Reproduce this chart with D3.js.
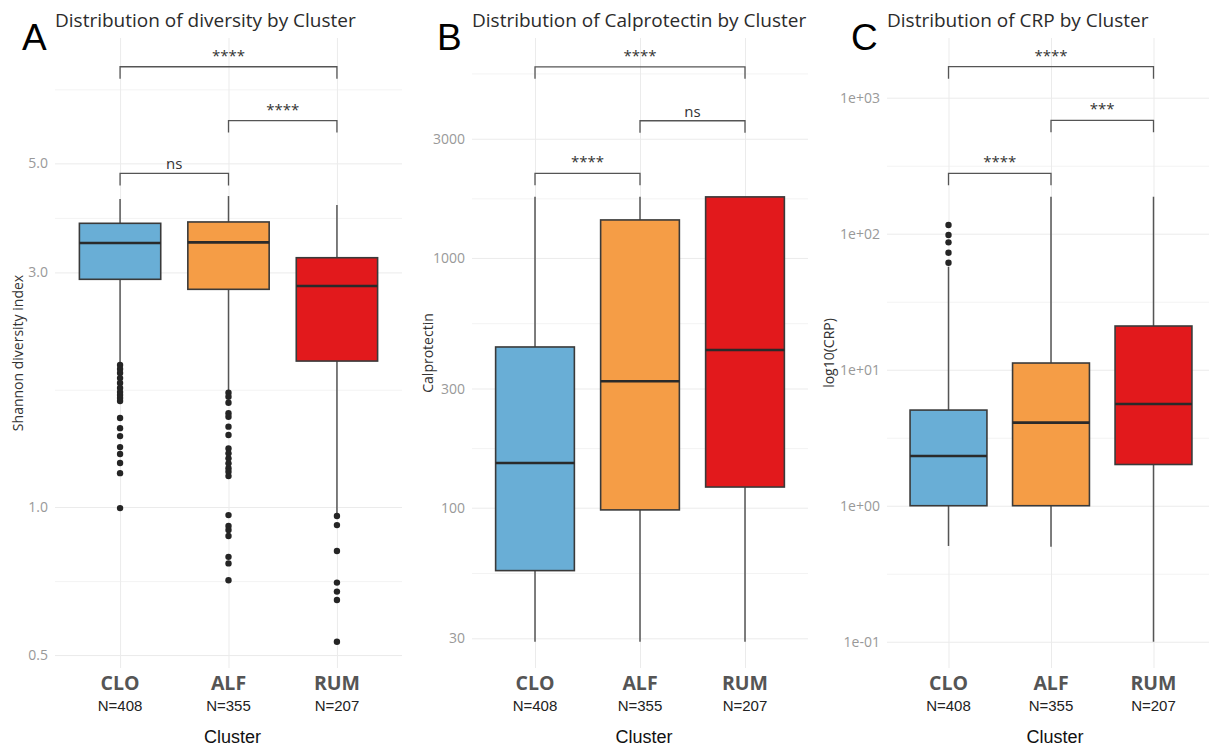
<!DOCTYPE html>
<html>
<head>
<meta charset="utf-8">
<script src="https://cdn.jsdelivr.net/npm/d3@7"></script>
<style>
body { margin: 0; background: #fff; }
svg text { font-family: "Open Sans", sans-serif; }
.grid path { display: none; }
.grid.major line { stroke: #ebebeb; stroke-width: 1; }
.grid.minor line { stroke: #f3f3f3; stroke-width: 1; }
.ytick path { display: none; }
.ytick text { fill: #999; font-size: 14px; }
</style>
</head>
<body>
<svg id="chart" width="1209" height="747"></svg>
<script>
var clusters = ["CLO", "ALF", "RUM"];
var clusterN = [408, 355, 207];
var clusterFill = ["#69aed6", "#f59d46", "#e2191c"];

// boxes: [lower whisker, Q1, median, Q3, upper whisker]
var diversityBoxes = [
    [1.96, 2.905, 3.443, 3.776, 4.23],
    [1.73, 2.772, 3.454, 3.80, 4.29],
    [0.968, 1.981, 2.815, 3.214, 4.115]
];
var diversityOutliers = [
    [1.945, 1.909, 1.873, 1.829, 1.787, 1.746, 1.713, 1.690, 1.666, 1.643, 1.517, 1.447, 1.394, 1.324, 1.282, 1.229, 1.172, 0.995],
    [1.708, 1.676, 1.630, 1.551, 1.526, 1.457, 1.401, 1.316, 1.286, 1.256, 1.227, 1.199, 1.180, 1.156, 0.963, 0.915, 0.898, 0.873, 0.792, 0.768, 0.710],
    [0.959, 0.919, 0.814, 0.702, 0.673, 0.647, 0.532]
];
var diversityTicks = [0.5, 1, 3, 5];
var diversityMinor = [0.707, 1.732, 3.873, 7.071];
var diversitySig = [["CLO", "RUM", 7.86, "****"], ["ALF", "RUM", 6.11, "****"], ["CLO", "ALF", 4.77, "ns"]];

var calproBoxes = [
    [29.1, 56, 151, 440, 1758],
    [29.1, 98, 321, 1419, 1758],
    [29.1, 121, 428, 1755, 1755]
];
var calproOutliers = [[], [], []];
var calproTicks = [30, 100, 300, 1000, 3000];
var calproMinor = [54.77, 173.2, 547.7, 1732, 5477];
var calproSig = [["CLO", "RUM", 5820, "****"], ["ALF", "RUM", 3541, "ns"], ["CLO", "ALF", 2181, "****"]];

var crpBoxes = [
    [0.506, 1, 2.32, 5.05, 57.2],
    [0.5, 1, 4.08, 11.2, 187],
    [0.1, 2.01, 5.6, 20.96, 187]
];
var crpOutliers = [[115.9, 97.8, 86.4, 72.5, 61.2], [], []];
var crpTicks = [0.1, 1, 10, 100, 1000];
var crpMinor = [0.3162, 3.162, 31.62, 316.2];
var crpSig = [["CLO", "RUM", 1690, "****"], ["ALF", "RUM", 682, "***"], ["CLO", "ALF", 278, "****"]];

function sciFmt(v) {
    var e = Math.round(Math.log10(v));
    return "1e" + (e < 0 ? "-" : "+") + String(Math.abs(e)).padStart(2, "0");
}

var panels = [
    { letter: "A", title: "Distribution of diversity by Cluster", ylab: "Shannon diversity index",
      boxes: diversityBoxes, outliers: diversityOutliers, ticks: diversityTicks, minor: diversityMinor, sig: diversitySig,
      domain: [0.4706, 8.993], fmt: d3.format(".1f"), x0: 55, x1: 402, letterX: 22, ylabX: 18 },
    { letter: "B", title: "Distribution of Calprotectin by Cluster", ylab: "Calprotectin",
      boxes: calproBoxes, outliers: calproOutliers, ticks: calproTicks, minor: calproMinor, sig: calproSig,
      domain: [22.82, 7592], fmt: d3.format("d"), x0: 472, x1: 808, letterX: 437, ylabX: 428 },
    { letter: "C", title: "Distribution of CRP by Cluster", ylab: "log10(CRP)",
      boxes: crpBoxes, outliers: crpOutliers, ticks: crpTicks, minor: crpMinor, sig: crpSig,
      domain: [0.0641, 2748], fmt: sciFmt, x0: 887, x1: 1215, letterX: 851, ylabX: 829 }
];

var TOP = 38, BOTTOM = 668;
var svg = d3.select("#chart");
svg.append("rect").attr("width", 1209).attr("height", 747).attr("fill", "#fff");

panels.forEach(function(p) {
    var g = svg.append("g");
    var x = d3.scalePoint().domain(clusters).range([p.x0, p.x1]).padding(0.6);
    var y = d3.scaleLog().domain(p.domain).range([BOTTOM, TOP]);
    var bw = x.step() * 0.75;

    // grid
    g.append("g").attr("class", "grid minor")
        .attr("transform", "translate(" + p.x0 + ",0)")
        .call(d3.axisLeft(y).tickValues(p.minor).tickSize(-(p.x1 - p.x0)).tickFormat(""));
    g.append("g").attr("class", "grid major")
        .attr("transform", "translate(" + p.x0 + ",0)")
        .call(d3.axisLeft(y).tickValues(p.ticks).tickSize(-(p.x1 - p.x0)).tickFormat(""));
    g.append("g").attr("class", "grid major")
        .attr("transform", "translate(0," + BOTTOM + ")")
        .call(d3.axisBottom(x).tickSize(-(BOTTOM - TOP)).tickFormat(""));

    // y tick labels
    g.append("g").attr("class", "ytick")
        .attr("transform", "translate(" + p.x0 + ",0)")
        .call(d3.axisLeft(y).tickValues(p.ticks).tickSize(0).tickPadding(7).tickFormat(p.fmt))
        .selectAll("line").remove();

    // boxes
    var box = g.selectAll(".box").data(p.boxes).enter().append("g")
        .attr("transform", function(d, i) { return "translate(" + x(clusters[i]) + ",0)"; });
    box.append("line").attr("y1", function(d) { return y(d[0]); }).attr("y2", function(d) { return y(d[1]); })
        .attr("stroke", "#555").attr("stroke-width", 1.5);
    box.append("line").attr("y1", function(d) { return y(d[3]); }).attr("y2", function(d) { return y(d[4]); })
        .attr("stroke", "#555").attr("stroke-width", 1.5);
    box.append("rect")
        .attr("x", -bw / 2).attr("width", bw)
        .attr("y", function(d) { return y(d[3]); })
        .attr("height", function(d) { return y(d[1]) - y(d[3]); })
        .attr("fill", function(d, i) { return clusterFill[i]; })
        .attr("stroke", "#3a3a3a").attr("stroke-width", 1.6);
    box.append("line").attr("x1", -bw / 2).attr("x2", bw / 2)
        .attr("y1", function(d) { return y(d[2]); }).attr("y2", function(d) { return y(d[2]); })
        .attr("stroke", "#2a2a2a").attr("stroke-width", 2.6);

    // outliers
    var pts = [];
    p.outliers.forEach(function(arr, i) {
        arr.forEach(function(v) { pts.push({ c: clusters[i], v: v }); });
    });
    g.selectAll(".pt").data(pts).enter().append("circle")
        .attr("cx", function(d) { return x(d.c); })
        .attr("cy", function(d) { return y(d.v); })
        .attr("r", 3.2).attr("fill", "#252525");

    // significance brackets
    var sig = g.selectAll(".sig").data(p.sig).enter().append("g");
    sig.append("path")
        .attr("d", function(d) {
            var yy = y(d[2]);
            return "M" + x(d[0]) + "," + (yy + 12) + "V" + yy + "H" + x(d[1]) + "V" + (yy + 12);
        })
        .attr("fill", "none").attr("stroke", "#555").attr("stroke-width", 1.3);
    sig.append("text")
        .attr("x", function(d) { return (x(d[0]) + x(d[1])) / 2; })
        .attr("y", function(d) { return y(d[2]) - (d[3] == "ns" ? 4 : 6); })
        .attr("text-anchor", "middle")
        .attr("font-size", "15px")
        .attr("fill", "#333")
        .text(function(d) { return d[3]; });

    // x labels
    var xl = g.selectAll(".xl").data(clusters).enter().append("g")
        .attr("transform", function(d) { return "translate(" + x(d) + ",0)"; });
    xl.append("text").attr("y", 690).attr("text-anchor", "middle")
        .attr("font-size", "19.5px").attr("font-weight", "bold").attr("fill", "#555")
        .text(function(d) { return d; });
    xl.append("text").attr("y", 711).attr("text-anchor", "middle")
        .attr("font-size", "15px").attr("fill", "#222")
        .style("font-family", "'Liberation Sans', Arial, sans-serif")
        .text(function(d, i) { return "N=" + clusterN[i]; });

    g.append("text").attr("x", x("ALF") + 4).attr("y", 743).attr("text-anchor", "middle")
        .attr("font-size", "18px").attr("fill", "#111")
        .style("font-family", "'Liberation Sans', Arial, sans-serif")
        .text("Cluster");

    // y title
    g.append("text")
        .attr("transform", "translate(" + p.ylabX + "," + ((TOP + BOTTOM) / 2) + ") rotate(-90)")
        .attr("text-anchor", "middle").attr("dy", "0.35em")
        .attr("font-size", "14px").attr("fill", "#333")
        .text(p.ylab);

    // title and panel letter
    g.append("text").attr("x", p.x0).attr("y", 27)
        .attr("font-size", "19px").attr("fill", "#2b2b2b")
        .text(p.title);
    g.append("text").attr("x", p.letterX).attr("y", 50)
        .attr("font-size", "37px").attr("fill", "#000")
        .style("font-family", "'Liberation Sans', Arial, sans-serif")
        .text(p.letter);
});
</script>
</body>
</html>
